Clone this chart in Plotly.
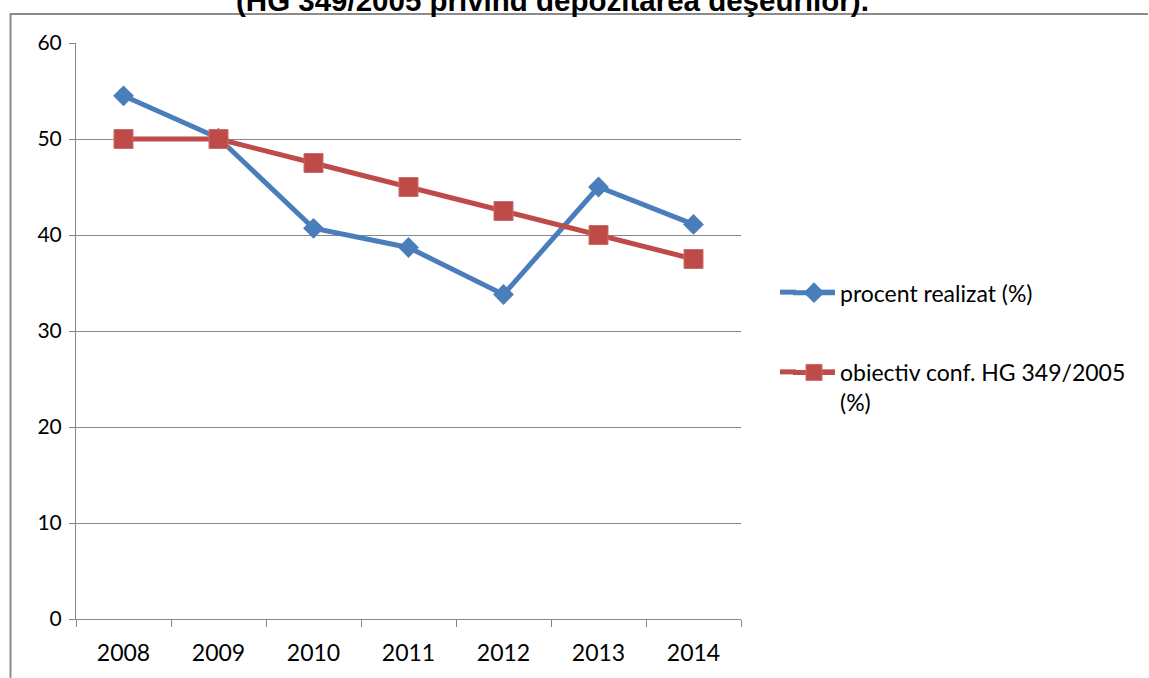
import plotly.graph_objects as go

years = ["2008", "2009", "2010", "2011", "2012", "2013", "2014"]
realizat = [54.5, 50.1, 40.7, 38.7, 33.8, 45.0, 41.1]
obiectiv = [50.0, 50.0, 47.5, 45.0, 42.5, 40.0, 37.5]
name_realizat = "procent realizat (%)"
name_obiectiv = "obiectiv conf. HG 349/2005<br>(%)"
title_text = "(HG 349/2005 privind depozitarea deşeurilor)."

W, H = 1149, 678
L, R, T, B = 76, 741, 43, 621
FONT = "Lato"
GRID = "#868686"
BLUE = "#4A7EBB"
RED = "#BE4B48"

def px(x):
    return (x - L) / (R - L)

def py(y):
    return (B - y) / (B - T)

fig = go.Figure()
fig.add_trace(go.Scatter(
    x=years, y=realizat, name=name_realizat, mode="lines+markers",
    line=dict(color=BLUE, width=5),
    marker=dict(symbol="diamond", size=16, color=BLUE),
    legend="legend",
))
fig.add_trace(go.Scatter(
    x=years, y=obiectiv, name=name_obiectiv, mode="lines+markers",
    line=dict(color=RED, width=5),
    marker=dict(symbol="square", size=19, color=RED,
                line=dict(color="#C96D6A", width=1)),
    legend="legend2",
))

LEG_X = 788
LEG_FONT = 23
LEG_OFF = 21
BLUE_LEG_Y = 293
RED_LEG_Y = 373
fig.update_layout(
    width=W, height=H,
    margin=dict(l=L, r=W - R, t=T, b=H - B, pad=0),
    paper_bgcolor="white", plot_bgcolor="white",
    font=dict(family=FONT, size=22, color="black"),
    showlegend=True,
    legend=dict(x=px(LEG_X), y=py(BLUE_LEG_Y - LEG_OFF), xanchor="left",
                yanchor="top", valign="top",
                font=dict(family=FONT, size=LEG_FONT), bgcolor="rgba(0,0,0,0)",
                borderwidth=0, itemwidth=42),
    legend2=dict(x=px(LEG_X), y=py(RED_LEG_Y - LEG_OFF), xanchor="left",
                 yanchor="top", valign="top",
                 font=dict(family=FONT, size=LEG_FONT), bgcolor="rgba(0,0,0,0)",
                 borderwidth=0, itemwidth=42),
    xaxis=dict(type="category", range=[-0.5, 6.5], showgrid=False,
               showline=True, linecolor=GRID, linewidth=1,
               ticks="outside", tickson="boundaries", ticklen=7,
               tickcolor=GRID, tickfont=dict(family=FONT, size=23),
               ticklabelstandoff=13, zeroline=False),
    yaxis=dict(range=[0, 60], dtick=10, showgrid=True, gridcolor=GRID,
               gridwidth=1, showline=True, linecolor=GRID, linewidth=1,
               ticks="outside", ticklen=6, tickcolor=GRID,
               tickfont=dict(family=FONT, size=21), zeroline=False,
               ticklabelstandoff=3),
)

# outer chart border (top and left visible)
fig.add_shape(type="line", xref="paper", yref="paper", layer="above",
              x0=px(10), x1=px(1148), y0=py(14), y1=py(14),
              line=dict(color="#8C8C8C", width=2))
fig.add_shape(type="line", xref="paper", yref="paper", layer="above",
              x0=px(10.5), x1=px(10.5), y0=py(13), y1=py(680),
              line=dict(color="#8C8C8C", width=2))

# lengthen the legend sample lines (Excel-style longer samples)
for col, yy in ((BLUE, BLUE_LEG_Y), (RED, RED_LEG_Y)):
    for xa, xb in ((780, 796), (820, 835)):
        fig.add_shape(type="line", xref="paper", yref="paper", layer="below",
                      x0=px(xa), x1=px(xb), y0=py(yy), y1=py(yy),
                      line=dict(color=col, width=5))

fig.add_annotation(text="<b>" + title_text + "</b>", xref="paper", yref="paper",
                   x=px(552), y=py(19), xanchor="center", yanchor="bottom",
                   showarrow=False,
                   font=dict(family="Liberation Sans", size=29.5, color="black"))

fig.write_html("out.html", config={"displayModeBar": False},
               post_script="document.body.style.margin='0px';")
